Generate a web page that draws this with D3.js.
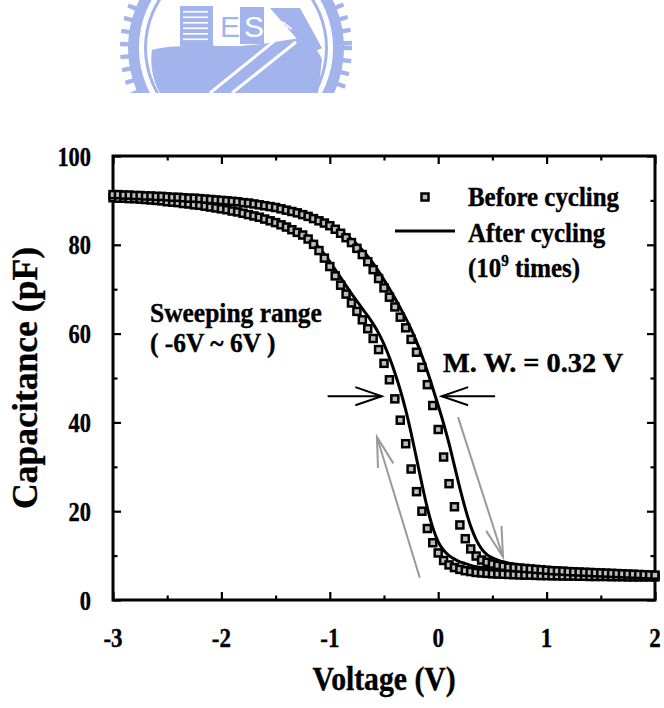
<!DOCTYPE html>
<html>
<head>
<meta charset="utf-8">
<script src="https://cdn.jsdelivr.net/npm/d3@7"></script>
<style>
  html, body { margin: 0; padding: 0; background: #fff; }
  svg { display: block; }
  text { font-family: "Liberation Serif", "Times New Roman", serif; font-weight: bold; fill: #000; stroke: #000; stroke-width: 0.4px; }
</style>
</head>
<body>
<svg id="chart" width="664" height="708"></svg>
<script>
// Gate voltage sweep points (V)
const voltage = [
  -3.00,-2.95,-2.90,-2.85,-2.80,-2.75,-2.70,-2.65,-2.60,-2.55,
  -2.50,-2.45,-2.40,-2.35,-2.30,-2.25,-2.20,-2.15,-2.10,-2.05,
  -2.00,-1.95,-1.90,-1.85,-1.80,-1.75,-1.70,-1.65,-1.60,-1.55,
  -1.50,-1.45,-1.40,-1.35,-1.30,-1.25,-1.20,-1.15,-1.10,-1.05,
  -1.00,-0.95,-0.90,-0.85,-0.80,-0.75,-0.70,-0.65,-0.60,-0.55,
  -0.50,-0.45,-0.40,-0.35,-0.30,-0.25,-0.20,-0.15,-0.10,-0.05,
   0.00, 0.05, 0.10, 0.15, 0.20, 0.25, 0.30, 0.35, 0.40, 0.45,
   0.50, 0.55, 0.60, 0.65, 0.70, 0.75, 0.80, 0.85, 0.90, 0.95,
   1.00, 1.05, 1.10, 1.15, 1.20, 1.25, 1.30, 1.35, 1.40, 1.45,
   1.50, 1.55, 1.60, 1.65, 1.70, 1.75, 1.80, 1.85, 1.90, 1.95,
   2.00
];

// Before cycling, sweep -V -> +V (right branch), pF
const beforeForward = [
  91.3,91.3,91.2,91.2,91.1,91.1,91.0,91.0,90.9,90.9,
  90.8,90.7,90.7,90.6,90.5,90.5,90.4,90.3,90.2,90.1,
  90.0,89.9,89.8,89.7,89.5,89.4,89.2,89.0,88.8,88.6,
  88.4,88.1,87.8,87.5,87.2,86.8,86.4,85.9,85.4,84.9,
  84.3,83.5,82.6,81.6,80.5,79.2,77.8,76.2,74.4,72.4,
  70.3,68.2,66.0,63.7,61.3,58.7,55.8,52.4,48.5,43.8,
  38.4,32.2,26.2,21.0,16.9,13.8,11.5,9.9,9.0,8.5,
  8.1,7.8,7.6,7.4,7.3,7.2,7.1,7.0,6.9,6.8,
  6.7,6.6,6.55,6.5,6.4,6.35,6.3,6.25,6.2,6.15,
  6.1,6.05,6.0,5.95,5.9,5.85,5.8,5.75,5.7,5.65,
  5.6
];

// Before cycling, sweep +V -> -V (left branch), pF
const beforeReverse = [
  90.6,90.5,90.5,90.4,90.4,90.3,90.2,90.1,90.0,89.9,
  89.7,89.6,89.5,89.3,89.2,89.0,88.9,88.7,88.5,88.3,
  88.1,87.9,87.6,87.4,87.1,86.8,86.5,86.2,85.8,85.4,
  85.0,84.5,84.0,83.4,82.8,82.2,81.3,80.1,78.7,77.0,
  75.1,73.0,70.9,68.9,66.9,65.0,63.1,61.1,58.9,56.4,
  53.3,49.6,45.3,40.5,35.2,29.5,24.4,20.0,16.1,12.9,
  10.6,8.9,7.9,7.3,6.9,6.6,6.4,6.2,6.1,6.0,
  5.9,5.85,5.8,5.75,5.7,5.65,5.6,5.6,5.55,5.5,
  5.5,5.45,5.45,5.4,5.4,5.4,5.35,5.35,5.3,5.3,
  5.3,5.3,5.25,5.25,5.25,5.2,5.2,5.2,5.2,5.2,
  5.2
];

// After 10^9 cycles, sweep -V -> +V, pF
const afterForward = [
  91.4,91.4,91.3,91.3,91.2,91.2,91.1,91.1,91.0,91.0,
  90.9,90.8,90.8,90.7,90.6,90.6,90.5,90.4,90.3,90.2,
  90.1,90.0,89.9,89.8,89.7,89.5,89.4,89.2,89.0,88.8,
  88.6,88.3,88.0,87.7,87.4,87.0,86.6,86.1,85.7,85.2,
  84.6,83.9,83.1,82.2,81.2,80.1,78.8,77.4,75.8,74.0,
  72.1,70.1,68.0,65.8,63.5,61.0,58.2,55.0,51.5,47.7,
  43.8,39.7,35.2,30.2,25.2,20.6,16.6,13.6,11.5,10.2,
  9.5,9.0,8.6,8.3,8.1,7.9,7.7,7.5,7.35,7.2,
  7.05,6.95,6.85,6.75,6.65,6.55,6.45,6.4,6.3,6.25,
  6.2,6.1,6.05,6.0,5.95,5.9,5.85,5.8,5.75,5.7,
  5.65
];

// After 10^9 cycles, sweep +V -> -V, pF
const afterReverse = [
  90.9,90.8,90.8,90.7,90.7,90.6,90.5,90.4,90.3,90.2,
  90.0,89.9,89.8,89.6,89.5,89.3,89.2,89.0,88.8,88.6,
  88.4,88.2,87.9,87.7,87.4,87.1,86.8,86.5,86.1,85.7,
  85.3,84.8,84.3,83.7,83.1,82.5,81.8,80.7,79.4,77.9,
  76.2,74.4,72.6,70.8,69.0,67.3,65.6,64.0,62.2,60.1,
  57.6,54.6,51.2,47.3,42.8,37.6,31.9,26.1,20.7,16.3,
  13.1,11.2,10.0,9.2,8.6,8.2,7.8,7.5,7.3,7.1,
  6.95,6.8,6.7,6.6,6.5,6.4,6.3,6.25,6.2,6.1,
  6.05,6.0,5.95,5.9,5.85,5.8,5.75,5.7,5.65,5.6,
  5.6,5.55,5.5,5.5,5.45,5.45,5.4,5.4,5.35,5.35,
  5.3
];

const xTicks = [-3, -2, -1, 0, 1, 2];
const xMinorTicks = [-2.5, -1.5, -0.5, 0.5, 1.5];
const yTicks = [0, 20, 40, 60, 80, 100];
const yMinorTicks = [10, 30, 50, 70, 90];

const svg = d3.select('#chart');
const W = 664;

const x = d3.scaleLinear().domain([-3, 2]).range([113, 655]);
const y = d3.scaleLinear().domain([0, 100]).range([600, 156]);

// ---------- faint seal watermark at the top ----------
svg.append('clipPath').attr('id', 'sealClip')
  .append('rect').attr('x', 0).attr('y', 0).attr('width', W).attr('height', 93);
const seal = svg.append('g').attr('clip-path', 'url(#sealClip)');
const sealColor = '#a3b4ec';
const cx = 236, cy = 48;
for (let a = 0; a < 360; a += 6.5) {
  const r = a * Math.PI / 180;
  seal.append('rect')
    .attr('x', -6).attr('y', -2.2).attr('width', 12).attr('height', 4.4)
    .attr('fill', sealColor)
    .attr('transform', `translate(${cx + 110 * Math.cos(r)},${cy + 110 * Math.sin(r)}) rotate(${a})`);
}
const ring = d3.arc();
seal.append('path').attr('transform', `translate(${cx},${cy})`)
  .attr('d', ring({ innerRadius: 97, outerRadius: 108, startAngle: 0, endAngle: 2 * Math.PI }))
  .attr('fill', sealColor);
seal.append('path').attr('transform', `translate(${cx},${cy})`)
  .attr('d', ring({ innerRadius: 89, outerRadius: 92, startAngle: 0, endAngle: 2 * Math.PI }))
  .attr('fill', sealColor);
seal.append('path')
  .attr('d', 'M152,50 C170,44 210,46 240,46 L262,44 L300,38 C312,44 320,52 322,60 L318,93 L160,93 C152,80 150,62 152,50 Z')
  .attr('fill', sealColor);
seal.append('rect').attr('x', 180).attr('y', 6).attr('width', 33).attr('height', 40).attr('fill', sealColor);
for (let k = 0; k < 6; k++) {
  seal.append('rect').attr('x', 183).attr('y', 11 + k * 5.5).attr('width', 25).attr('height', 1.6).attr('fill', '#fff');
}
const sealText = (t, tx, ty, size, fill, rot) => seal.append('text')
  .attr('transform', `translate(${tx},${ty}) rotate(${rot || 0})`)
  .attr('font-size', size).style('fill', fill).style('stroke', 'none')
  .style('font-weight', 'normal').style('font-family', 'Liberation Sans, sans-serif').text(t);
sealText('E', 220, 37, 30, sealColor);
seal.append('rect').attr('x', 240).attr('y', 7).attr('width', 24).attr('height', 37).attr('fill', sealColor);
sealText('S', 244, 37, 30, '#fff');
seal.append('path').attr('d', 'M270,8 L300,8 L322,48 L310,54 Z').attr('fill', sealColor);
sealText('A', 283, 34, 16, '#fff', -30);
seal.append('path').attr('d', 'M210,93 L283,34').attr('stroke', '#fff').attr('stroke-width', 3);
seal.append('path').attr('d', 'M232,93 L296,42').attr('stroke', '#fff').attr('stroke-width', 3);

// ---------- axes: inward major and minor ticks on all four sides ----------
const axisG = svg.append('g');
function ticks(axisFn, scale, values, size, tx, ty) {
  const g = axisG.append('g').attr('transform', `translate(${tx},${ty})`)
    .call(axisFn(scale).tickValues(values).tickSize(size).tickFormat(''));
  g.select('.domain').remove();
  g.selectAll('.tick line').attr('stroke', '#000').attr('stroke-width', 2.2);
}
ticks(d3.axisBottom, x, xTicks, -8, 0, 600);
ticks(d3.axisBottom, x, xMinorTicks, -4.5, 0, 600);
ticks(d3.axisTop, x, xTicks, -8, 0, 156);
ticks(d3.axisTop, x, xMinorTicks, -4.5, 0, 156);
ticks(d3.axisLeft, y, yTicks, -8, 113, 0);
ticks(d3.axisLeft, y, yMinorTicks, -4.5, 113, 0);
ticks(d3.axisRight, y, yTicks, -8, 655, 0);
ticks(d3.axisRight, y, yMinorTicks, -4.5, 655, 0);

svg.append('rect')
  .attr('x', x(-3)).attr('y', y(100))
  .attr('width', x(2) - x(-3)).attr('height', y(0) - y(100))
  .attr('fill', 'none').attr('stroke', '#000').attr('stroke-width', 3);

// text helper: horizontally condensed bold serif
function label(txt, px, py, size, anchor, sx, rot) {
  const g = svg.append('g')
    .attr('transform', `translate(${px},${py}) rotate(${rot || 0}) scale(${sx},1)`);
  return g.append('text').attr('x', 0).attr('y', 0)
    .attr('font-size', size).attr('text-anchor', anchor).text(txt);
}

xTicks.forEach(v => label(v, x(v), 647, 28, 'middle', 0.82));
yTicks.forEach(v => label(v, 91, y(v) + 9.5, 28, 'end', 0.8));

label('Voltage (V)', (x(-3) + x(2)) / 2, 690, 33, 'middle', 0.9);
label('Capacitance (pF)', 37, (y(0) + y(100)) / 2, 36, 'middle', 0.99, -90);

// ---------- curves ----------
const plot = svg.append('g');
const lineGen = d3.line()
  .x(d => x(d[0])).y(d => y(d[1]))
  .curve(d3.curveMonotoneX);

const afterF = voltage.map((v, i) => [v, afterForward[i]]);
const afterR = voltage.map((v, i) => [v, afterReverse[i]]);
const beforeF = voltage.map((v, i) => [v, beforeForward[i]]);
const beforeR = voltage.map((v, i) => [v, beforeReverse[i]]);

[afterF, afterR].forEach(series => {
  plot.append('path').datum(series)
    .attr('d', lineGen)
    .attr('fill', 'none').attr('stroke', '#000').attr('stroke-width', 3);
});

const markerSize = 7;
[beforeR, beforeF].forEach(series => {
  plot.append('g').selectAll('rect').data(series).join('rect')
    .attr('x', d => x(d[0]) - markerSize / 2)
    .attr('y', d => y(d[1]) - markerSize / 2)
    .attr('width', markerSize).attr('height', markerSize)
    .attr('fill', '#bdbdbd').attr('stroke', '#000').attr('stroke-width', 2.5);
});

// ---------- sweep direction arrows ----------
function arrow(p0, p1, color, width, headLen, headAng) {
  const x0 = x(p0[0]), y0 = y(p0[1]), x1 = x(p1[0]), y1 = y(p1[1]);
  const ang = Math.atan2(y0 - y1, x0 - x1);
  const a = headAng * Math.PI / 180;
  const b1 = [x1 + headLen * Math.cos(ang + a), y1 + headLen * Math.sin(ang + a)];
  const b2 = [x1 + headLen * Math.cos(ang - a), y1 + headLen * Math.sin(ang - a)];
  const g = plot.append('g').attr('fill', 'none').attr('stroke', color)
    .attr('stroke-width', width).attr('stroke-linecap', 'butt');
  g.append('path').attr('d', `M${x0},${y0}L${x1},${y1}`);
  g.append('path').attr('d', `M${b1[0]},${b1[1]}L${x1},${y1}L${b2[0]},${b2[1]}`);
}
arrow([-0.17, 5.0], [-0.565, 36.7], '#999', 2, 31, 15);
arrow([0.183, 41.2], [0.598, 9.7], '#999', 2, 31, 15);

// memory window arrows
arrow([-1.02, 45.9], [-0.52, 45.9], '#000', 2, 28, 19);
arrow([0.525, 45.9], [0.032, 45.9], '#000', 2, 28, 19);

// ---------- annotations ----------
label('Sweeping range', 150, 322, 28, 'start', 0.91);
label('( -6V ~ 6V )', 150, 352, 28, 'start', 0.91);
label('M. W. = 0.32 V', 443, 372, 27, 'start', 1.05);

// ---------- legend ----------
svg.append('rect').attr('x', 425 - markerSize / 2).attr('y', 197 - markerSize / 2)
  .attr('width', markerSize).attr('height', markerSize)
  .attr('fill', '#bdbdbd').attr('stroke', '#000').attr('stroke-width', 2.5);
svg.append('line').attr('x1', 395).attr('x2', 455).attr('y1', 231).attr('y2', 231)
  .attr('stroke', '#000').attr('stroke-width', 3);
label('Before cycling', 468, 206, 28, 'start', 0.89);
label('After cycling', 468, 242, 28, 'start', 0.89);
const t3 = label('(10', 468, 277, 28, 'start', 0.89);
t3.append('tspan').attr('font-size', 17).attr('dy', -11).text('9');
t3.append('tspan').attr('dy', 11).text(' times)');
</script>
</body>
</html>
